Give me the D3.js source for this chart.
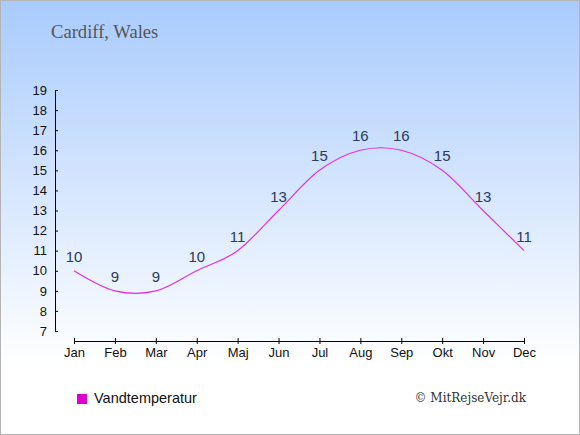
<!DOCTYPE html>
<html>
<head>
<meta charset="utf-8">
<script src="https://cdn.jsdelivr.net/npm/d3@7"></script>
<style>
  body { margin: 0; background: #fff; }
  svg { display: block; }
</style>
</head>
<body>
<svg width="580" height="435"></svg>
<script>
// data
var months = ["Jan", "Feb", "Mar", "Apr", "Maj", "Jun", "Jul", "Aug", "Sep", "Okt", "Nov", "Dec"];
var waterTemp = [10, 9, 9, 10, 11, 13, 15, 16, 16, 15, 13, 11];
var yTicks = [7, 8, 9, 10, 11, 12, 13, 14, 15, 16, 17, 18, 19];

var svg = d3.select("svg");

// background gradient
var defs = svg.append("defs");
var grad = defs.append("linearGradient")
	.attr("id", "bg")
	.attr("x1", 0).attr("y1", 0)
	.attr("x2", 0).attr("y2", 1);
grad.append("stop").attr("offset", "0%").attr("stop-color", "#a9cbfd");
grad.append("stop").attr("offset", "100%").attr("stop-color", "#ffffff");

svg.append("rect")
	.attr("x", 0).attr("y", 0)
	.attr("width", 580).attr("height", 365)
	.attr("fill", "url(#bg)");

svg.append("rect")
	.attr("x", 0.5).attr("y", 0.5)
	.attr("width", 579).attr("height", 434)
	.attr("fill", "none")
	.attr("stroke", "#b4b4b4");

// title
svg.append("text")
	.attr("x", 51).attr("y", 38)
	.attr("font-family", "'Liberation Serif', 'DejaVu Serif', serif")
	.attr("font-size", 18.6)
	.attr("fill", "#555")
	.text("Cardiff, Wales");

// scales
var x = d3.scalePoint().domain(months).range([74, 524]);
var y = d3.scaleLinear().domain([7, 19]).range([331, 90]);

// y axis
var yAxis = svg.append("g")
	.attr("transform", "translate(55,0)")
	.call(d3.axisLeft(y).tickValues(yTicks).tickSize(3).tickSizeOuter(0).tickPadding(5));
yAxis.selectAll(".tick line").attr("x2", 3);

// x axis
var xAxis = svg.append("g")
	.attr("transform", "translate(0,341)")
	.call(d3.axisBottom(x).tickSize(3).tickSizeOuter(0).tickPadding(4));
xAxis.selectAll(".tick line").attr("y1", -3);
xAxis.select(".domain").attr("d", "M" + x("Jan") + ",0.5H" + x("Dec"));

svg.selectAll(".tick text")
	.attr("font-family", "'Liberation Sans', Arial, sans-serif")
	.attr("font-size", 13)
	.attr("fill", "#111");
svg.selectAll(".domain, .tick line").attr("stroke", "#000");

// line
var line = d3.line()
	.x(function(d, i){ return x(months[i]); })
	.y(function(d){ return y(d); })
	.curve(d3.curveCardinal.tension(0));

svg.append("path")
	.datum(waterTemp)
	.attr("d", line)
	.attr("fill", "none")
	.attr("stroke", "#e030e0")
	.attr("stroke-width", 1.2);

// value labels
svg.selectAll(".val")
	.data(waterTemp)
	.enter().append("text")
	.attr("class", "val")
	.attr("x", function(d, i){ return x(months[i]); })
	.attr("y", function(d){ return y(d) - 9; })
	.attr("text-anchor", "middle")
	.attr("font-family", "'Liberation Sans', Arial, sans-serif")
	.attr("font-size", 15)
	.attr("fill", "#2a3a5a")
	.text(function(d){ return d; });

// legend
svg.append("rect")
	.attr("x", 77).attr("y", 394)
	.attr("width", 10).attr("height", 10)
	.attr("fill", "#dd00cc");
svg.append("text")
	.attr("x", 94).attr("y", 403)
	.attr("font-family", "'Liberation Sans', Arial, sans-serif")
	.attr("font-size", 14.5)
	.attr("fill", "#111")
	.text("Vandtemperatur");

svg.append("text")
	.attr("x", 526).attr("y", 402)
	.attr("text-anchor", "end")
	.attr("font-family", "'DejaVu Serif', 'Liberation Serif', serif")
	.attr("font-size", 12)
	.attr("fill", "#333")
	.text("© MitRejseVejr.dk");
</script>
</body>
</html>
